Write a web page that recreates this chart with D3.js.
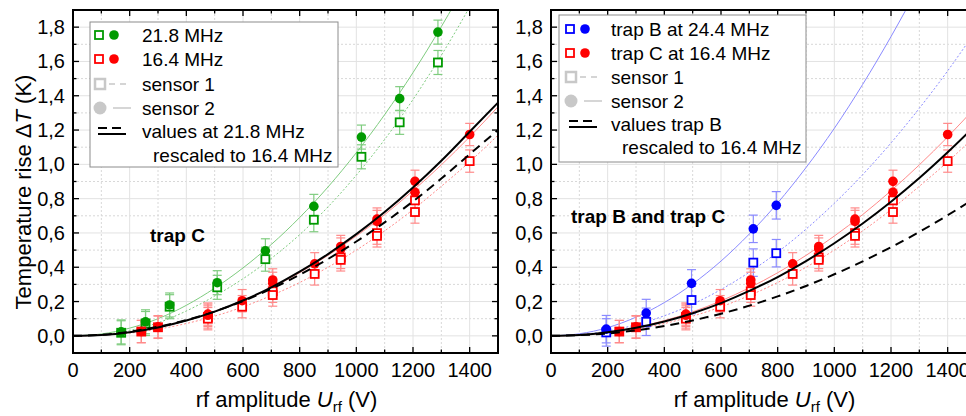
<!DOCTYPE html>
<html>
<head>
<meta charset="utf-8">
<script src="https://cdn.jsdelivr.net/npm/d3@7"></script>
<style>
  body { margin: 0; background: #fff; }
  svg { display: block; font-family: "Liberation Sans", Arial, sans-serif; }
</style>
</head>
<body>
<svg id="chart" width="966" height="416"></svg>
<script>
// ---- data ----
const xTicks = [0, 200, 400, 600, 800, 1000, 1200, 1400];
const yTicks = [0, 0.2, 0.4, 0.6, 0.8, 1.0, 1.2, 1.4, 1.6, 1.8];

// trap C at 21.8 MHz
const c21U = [170, 256, 341, 509, 679, 850, 1018, 1153, 1288];
const c21S2 = [0.023, 0.082, 0.18, 0.31, 0.496, 0.755, 1.159, 1.383, 1.771];
const c21S1 = [0.018, 0.072, 0.17, 0.283, 0.447, 0.677, 1.044, 1.245, 1.594];

// trap C at 16.4 MHz (two runs)
const c16U = [241, 300, 476, 476, 597, 705, 705, 853, 945, 945, 1073, 1073, 1207, 1207, 1400];
const c16S2 = [0.025, 0.053, 0.127, 0.12, 0.205, 0.326, 0.306, 0.42, 0.521, 0.506, 0.681, 0.667, 0.901, 0.837, 1.174];
const c16S1 = [0.025, 0.05, 0.11, 0.1, 0.17, 0.26, 0.238, 0.361, 0.457, 0.443, 0.599, 0.583, 0.79, 0.722, 1.019];

// trap B at 24.4 MHz
const b24U = [195, 336, 496, 714, 795];
const b24S2 = [0.039, 0.133, 0.306, 0.624, 0.761];
const b24S1 = [0.02, 0.082, 0.209, 0.427, 0.482];

const errGreen = 0.07, errRed = 0.065, errBlue = 0.08;

// fitted curves, sampled every 100 V
const fitU = [0, 100, 200, 300, 400, 500, 600, 700, 800, 900, 1000, 1100, 1200, 1300, 1400, 1500];
const fitC21S2 = [0, 0.011, 0.045, 0.10, 0.178, 0.278, 0.396, 0.533, 0.69, 0.868, 1.068, 1.29, 1.535, 1.803, 2.094, 2.41];
const fitC21S1 = [0, 0.007, 0.032, 0.076, 0.145, 0.232, 0.333, 0.452, 0.59, 0.752, 0.937, 1.145, 1.378, 1.636, 1.918, 2.225];
const fitC16S2 = [0, 0.005, 0.021, 0.049, 0.089, 0.14, 0.204, 0.28, 0.368, 0.469, 0.582, 0.707, 0.846, 0.997, 1.16, 1.336];
const fitC16S1 = [0, 0.004, 0.016, 0.039, 0.072, 0.115, 0.169, 0.235, 0.311, 0.4, 0.5, 0.612, 0.736, 0.872, 1.015, 1.17];
const fitC21to16S2 = [0, 0.005, 0.021, 0.049, 0.089, 0.141, 0.206, 0.283, 0.374, 0.477, 0.593, 0.722, 0.865, 1.021, 1.19, 1.36];
const fitC21to16S1 = [0, 0.006, 0.024, 0.053, 0.092, 0.142, 0.203, 0.274, 0.356, 0.448, 0.55, 0.662, 0.784, 0.917, 1.059, 1.2];
const fitB24S2 = [0, 0.012, 0.048, 0.109, 0.194, 0.303, 0.436, 0.594, 0.775, 0.981, 1.21, 1.466, 1.745, 2.047, 2.374, 2.726];
const fitB24S1 = [0, 0.007, 0.028, 0.065, 0.117, 0.185, 0.27, 0.371, 0.488, 0.622, 0.773, 0.94, 1.125, 1.327, 1.545, 1.781];
const fitB24to16S2 = [0, 0.005, 0.021, 0.047, 0.084, 0.132, 0.191, 0.262, 0.343, 0.436, 0.54, 0.655, 0.782, 0.92, 1.07, 1.23];
const fitB24to16S1 = [0, 0.004, 0.014, 0.032, 0.057, 0.09, 0.129, 0.176, 0.23, 0.291, 0.359, 0.434, 0.517, 0.606, 0.703, 0.807];

const GREEN = "#009a00", RED = "#ff0000", BLUE = "#0000ff";
const LGREEN = "#7fcc7f", LRED = "#ff8a8a", LBLUE = "#8a8aff";
const GRAY = "#c8c8c8";

const svg = d3.select("#chart");
const zip = (a, b) => a.map((v, i) => [v, b[i]]);

function drawPanel(p) {
  const W = 425, top = 10, bottom = 353;
  const x = d3.scaleLinear().domain([0, 1500]).range([p.left, p.left + W]);
  const y = d3.scaleLinear().domain([-0.1, 1.9]).range([bottom, top]);
  const g = svg.append("g");

  const clipId = "clip" + p.id;
  svg.append("clipPath").attr("id", clipId)
    .append("rect").attr("x", p.left).attr("y", top).attr("width", W).attr("height", bottom - top);

  // grid
  const minorX = d3.range(100, 1500, 200), minorY = d3.range(-0.1, 1.9, 0.2).map(v => +v.toFixed(1)).filter(v => v > -0.1);
  g.append("g").selectAll("line").data(minorX).join("line")
    .attr("x1", d => x(d)).attr("x2", d => x(d)).attr("y1", top).attr("y2", bottom)
    .attr("stroke", "#d8d8d8").attr("stroke-dasharray", "2,2");
  g.append("g").selectAll("line").data(minorY).join("line")
    .attr("y1", d => y(d)).attr("y2", d => y(d)).attr("x1", p.left).attr("x2", p.left + W)
    .attr("stroke", "#d8d8d8").attr("stroke-dasharray", "2,2");
  g.append("g").selectAll("line").data(xTicks.slice(1)).join("line")
    .attr("x1", d => x(d)).attr("x2", d => x(d)).attr("y1", top).attr("y2", bottom)
    .attr("stroke", "#e2e2e2");
  g.append("g").selectAll("line").data(yTicks).join("line")
    .attr("y1", d => y(d)).attr("y2", d => y(d)).attr("x1", p.left).attr("x2", p.left + W)
    .attr("stroke", "#e2e2e2");

  const plot = g.append("g").attr("clip-path", `url(#${clipId})`);
  const line = d3.line().x(d => x(d[0])).y(d => y(d[1])).curve(d3.curveMonotoneX);

  p.fits.forEach(f => {
    plot.append("path").datum(zip(fitU, f.v)).attr("d", line)
      .attr("fill", "none").attr("stroke", f.color).attr("stroke-width", f.w || 1)
      .attr("stroke-dasharray", f.dash || null);
  });

  p.series.forEach(s => {
    const pts = zip(s.u, s.v);
    const eb = plot.append("g").attr("stroke", s.errColor).attr("stroke-width", 1.2).attr("fill", "none");
    pts.forEach(([u, v]) => {
      eb.append("line").attr("x1", x(u)).attr("x2", x(u)).attr("y1", y(v - s.err)).attr("y2", y(v + s.err));
      eb.append("line").attr("x1", x(u) - 4.5).attr("x2", x(u) + 4.5).attr("y1", y(v - s.err)).attr("y2", y(v - s.err));
      eb.append("line").attr("x1", x(u) - 4.5).attr("x2", x(u) + 4.5).attr("y1", y(v + s.err)).attr("y2", y(v + s.err));
    });
  });
  p.series.forEach(s => {
    const pts = zip(s.u, s.v);
    if (s.shape === "circle") {
      plot.append("g").selectAll("circle").data(pts).join("circle")
        .attr("cx", d => x(d[0])).attr("cy", d => y(d[1])).attr("r", 4.8).attr("fill", s.color);
    } else {
      plot.append("g").selectAll("rect").data(pts).join("rect")
        .attr("x", d => x(d[0]) - 4).attr("y", d => y(d[1]) - 4).attr("width", 8).attr("height", 8)
        .attr("fill", "#fff").attr("stroke", s.color).attr("stroke-width", 1.8);
    }
  });

  p.blacks.forEach(f => {
    plot.append("path").datum(zip(fitU, f.v)).attr("d", line)
      .attr("fill", "none").attr("stroke", "#000").attr("stroke-width", 2)
      .attr("stroke-dasharray", f.dash || null);
  });

  // ticks inside on all sides
  const allX = d3.range(0, 1501, 100);
  const allY = d3.range(-1, 19).map(i => i / 10);
  const tk = g.append("g").attr("stroke", "#000").attr("stroke-width", 1.3);
  allX.forEach(u => {
    const L = u % 200 === 0 ? 6 : 3.5;
    tk.append("line").attr("x1", x(u)).attr("x2", x(u)).attr("y1", bottom).attr("y2", bottom - L);
    tk.append("line").attr("x1", x(u)).attr("x2", x(u)).attr("y1", top).attr("y2", top + L);
  });
  allY.forEach(v => {
    const L = Math.round(v * 10) % 2 === 0 ? 6 : 3.5;
    tk.append("line").attr("y1", y(v)).attr("y2", y(v)).attr("x1", p.left).attr("x2", p.left + L);
    tk.append("line").attr("y1", y(v)).attr("y2", y(v)).attr("x1", p.left + W).attr("x2", p.left + W - L);
  });

  g.append("rect").attr("x", p.left).attr("y", top).attr("width", W).attr("height", bottom - top)
    .attr("fill", "none").attr("stroke", "#000").attr("stroke-width", 2);

  // tick labels
  g.append("g").selectAll("text").data(xTicks).join("text")
    .attr("x", d => x(d)).attr("y", bottom + 24).attr("text-anchor", "middle")
    .attr("font-size", 20).text(d => d);
  g.append("g").selectAll("text").data(yTicks).join("text")
    .attr("x", p.left - 8).attr("y", d => y(d) + 7).attr("text-anchor", "end")
    .attr("font-size", 20).text(d => d3.format(".1f")(d).replace(".", ","));

  // x title
  const xt = g.append("text").attr("x", p.left + W / 2 + 1).attr("y", 407)
    .attr("text-anchor", "middle").attr("font-size", 22);
  xt.append("tspan").text("rf amplitude ");
  xt.append("tspan").attr("font-style", "italic").text("U");
  xt.append("tspan").attr("font-size", 15).attr("dy", 5).text("rf");
  xt.append("tspan").attr("dy", -5).text(" (V)");

  // annotation
  g.append("text").attr("x", p.noteX).attr("y", p.noteY).attr("font-size", 19)
    .attr("font-weight", "bold").text(p.note);

  // legend
  const lg = g.append("g");
  lg.append("rect").attr("x", p.leg.x).attr("y", p.leg.y).attr("width", p.leg.w).attr("height", p.leg.h)
    .attr("fill", "#fff").attr("stroke", "#8c8c8c").attr("stroke-width", 1);
  const rows = p.leg.rows, mx = p.leg.mx, tx = p.leg.tx;
  p.leg.labels.forEach((lab, i) => {
    lg.append("text").attr("x", i === 5 ? tx + 11 : tx).attr("y", rows[i] + 7)
      .attr("font-size", 19).text(lab);
  });
  p.leg.colors.forEach((c, i) => {
    lg.append("rect").attr("x", mx - 4).attr("y", rows[i] - 4).attr("width", 8).attr("height", 8)
      .attr("fill", "#fff").attr("stroke", c).attr("stroke-width", 1.8);
    lg.append("circle").attr("cx", mx + 15).attr("cy", rows[i]).attr("r", 4.8).attr("fill", c);
  });
  lg.append("rect").attr("x", mx - 4).attr("y", rows[2] - 5).attr("width", 10).attr("height", 10)
    .attr("fill", "#fff").attr("stroke", GRAY).attr("stroke-width", 2.5);
  lg.append("line").attr("x1", mx + 10).attr("x2", mx + 32).attr("y1", rows[2]).attr("y2", rows[2])
    .attr("stroke", GRAY).attr("stroke-width", 1.5).attr("stroke-dasharray", "6,5");
  lg.append("circle").attr("cx", mx + 1).attr("cy", rows[3]).attr("r", 6.5).attr("fill", GRAY);
  lg.append("line").attr("x1", mx + 14).attr("x2", mx + 32).attr("y1", rows[3]).attr("y2", rows[3])
    .attr("stroke", GRAY).attr("stroke-width", 1.5);
  lg.append("line").attr("x1", mx - 1).attr("x2", mx + 27).attr("y1", rows[4] - 3).attr("y2", rows[4] - 3)
    .attr("stroke", "#000").attr("stroke-width", 2).attr("stroke-dasharray", "9,5");
  lg.append("line").attr("x1", mx - 1).attr("x2", mx + 27).attr("y1", rows[4] + 3).attr("y2", rows[4] + 3)
    .attr("stroke", "#000").attr("stroke-width", 2);
}

const redSeries = [
  { u: c16U, v: c16S1, err: errRed, color: RED, errColor: LRED, shape: "square" },
  { u: c16U, v: c16S2, err: errRed, color: RED, errColor: LRED, shape: "circle" }
];

drawPanel({
  id: "L", left: 73,
  fits: [
    { v: fitC21S2, color: LGREEN }, { v: fitC21S1, color: LGREEN, dash: "2,2" },
    { v: fitC16S2, color: LRED }, { v: fitC16S1, color: LRED, dash: "2,2" }
  ],
  series: [
    { u: c21U, v: c21S1, err: errGreen, color: GREEN, errColor: LGREEN, shape: "square" },
    { u: c21U, v: c21S2, err: errGreen, color: GREEN, errColor: LGREEN, shape: "circle" },
    ...redSeries
  ],
  blacks: [{ v: fitC21to16S2 }, { v: fitC21to16S1, dash: "9,6" }],
  note: "trap C", noteX: 150, noteY: 242,
  leg: {
    x: 90, y: 22, w: 248, h: 145, rows: [35, 59, 84, 108, 131, 155], mx: 99, tx: 142,
    colors: [GREEN, RED],
    labels: ["21.8 MHz", "16.4 MHz", "sensor 1", "sensor 2", "values at 21.8 MHz", "rescaled to 16.4 MHz"]
  }
});

drawPanel({
  id: "R", left: 551,
  fits: [
    { v: fitB24S2, color: LBLUE }, { v: fitB24S1, color: LBLUE, dash: "2,2" },
    { v: fitC16S2, color: LRED }, { v: fitC16S1, color: LRED, dash: "2,2" }
  ],
  series: [
    { u: b24U, v: b24S1, err: errBlue, color: BLUE, errColor: LBLUE, shape: "square" },
    { u: b24U, v: b24S2, err: errBlue, color: BLUE, errColor: LBLUE, shape: "circle" },
    ...redSeries
  ],
  blacks: [{ v: fitB24to16S2 }, { v: fitB24to16S1, dash: "9,6" }],
  note: "trap B and trap C", noteX: 571, noteY: 223,
  leg: {
    x: 559, y: 15, w: 247, h: 147, rows: [29, 53, 77, 101, 124, 147], mx: 570, tx: 611,
    colors: [BLUE, RED],
    labels: ["trap B at 24.4 MHz", "trap C at 16.4 MHz", "sensor 1", "sensor 2", "values trap B", "rescaled to 16.4 MHz"]
  }
});

// y title
const yt = svg.append("text").attr("transform", "translate(31,192) rotate(-90)")
  .attr("text-anchor", "middle").attr("font-size", 22);
yt.append("tspan").text("Temperature rise \u0394");
yt.append("tspan").attr("font-style", "italic").text("T");
yt.append("tspan").text(" (K)");
</script>
</body>
</html>
